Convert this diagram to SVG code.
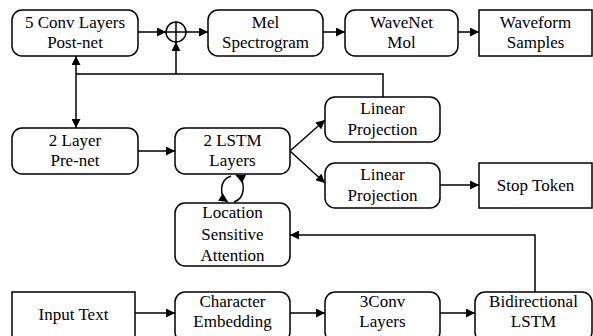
<svg xmlns="http://www.w3.org/2000/svg" width="593" height="336" viewBox="0 0 593 336">
<defs>
<marker id="ah" viewBox="0 0 10 10" refX="10" refY="5" markerWidth="10" markerHeight="9" markerUnits="userSpaceOnUse" orient="auto-start-reverse">
<path d="M0,0L10,5L0,10z" fill="#000"/>
</marker>
</defs>
<rect width="593" height="336" fill="#fff"/>
<g id="connectors" fill="none" stroke="#000" stroke-width="1.5">
<path marker-end="url(#ah)" d="M138,32H166"/>
<path marker-end="url(#ah)" d="M186,32H208"/>
<path marker-end="url(#ah)" d="M323,32H345"/>
<path marker-end="url(#ah)" d="M458,32H479"/>
<path d="M76,74H383V97"/>
<path marker-end="url(#ah)" d="M176,74V42"/>
<path marker-end="url(#ah)" d="M76,74V56"/>
<path marker-end="url(#ah)" d="M76,74V128"/>
<path marker-end="url(#ah)" d="M138,151H175"/>
<path marker-end="url(#ah)" d="M290,151L325,120"/>
<path marker-end="url(#ah)" d="M290,151L325,183"/>
<path marker-end="url(#ah)" d="M440,185H479"/>
<path marker-end="url(#ah)" d="M535,292V235H290"/>
<path marker-end="url(#ah)" d="M135,313H175"/>
<path marker-end="url(#ah)" d="M290,313H325"/>
<path marker-end="url(#ah)" d="M440,313H475"/>
<path marker-end="url(#ah)" d="M231,176C219,180 219,196 228,202"/>
<path marker-end="url(#ah)" d="M234,202C246,198 246,180 236,175"/>
</g>
<g stroke="#000" stroke-width="1.5" fill="#fff">
<g id="postnet"><rect x="12" y="10" width="126" height="46" rx="10"/></g>
<g id="sum"><circle cx="176" cy="32" r="10"/><path fill="none" d="M166,32H186M176,22V42"/></g>
<g id="mel"><rect x="208" y="10" width="115" height="46" rx="10"/></g>
<g id="wavenet"><rect x="345" y="10" width="113" height="46" rx="10"/></g>
<g id="waveform"><rect x="479" y="10" width="113" height="46"/></g>
<g id="linear1"><rect x="325" y="97" width="115" height="45" rx="10"/></g>
<g id="prenet"><rect x="12" y="128" width="126" height="46" rx="10"/></g>
<g id="lstm"><rect x="175" y="128" width="115" height="46" rx="10"/></g>
<g id="linear2"><rect x="325" y="163" width="115" height="45" rx="10"/></g>
<g id="stop"><rect x="479" y="163" width="113" height="45"/></g>
<g id="attention"><rect x="175" y="203" width="115" height="63" rx="10"/></g>
<g id="input"><rect x="12" y="292" width="123" height="50"/></g>
<g id="embedding"><rect x="175" y="292" width="115" height="50" rx="10"/></g>
<g id="conv3"><rect x="325" y="292" width="115" height="50" rx="10"/></g>
<g id="bilstm"><rect x="475" y="292" width="117" height="50" rx="10"/></g>
</g>
<g id="labels" fill="#000" text-anchor="middle">
<text font-family="Times New Roman" font-size="17" x="75" y="28">5 Conv Layers</text>
<text font-family="Times New Roman" font-size="17" x="75" y="48">Post-net</text>
<text font-family="Times New Roman" font-size="17" x="265.5" y="28">Mel</text>
<text font-family="Times New Roman" font-size="17" x="265.5" y="48">Spectrogram</text>
<text font-family="Times New Roman" font-size="17" x="401.5" y="28">WaveNet</text>
<text font-family="Times New Roman" font-size="17" x="401.5" y="48">Mol</text>
<text font-family="Times New Roman" font-size="17" x="535.5" y="28">Waveform</text>
<text font-family="Times New Roman" font-size="17" x="535.5" y="48">Samples</text>
<text font-family="Times New Roman" font-size="17" x="382.5" y="114">Linear</text>
<text font-family="Times New Roman" font-size="17" x="382.5" y="135">Projection</text>
<text font-family="Times New Roman" font-size="17" x="75" y="146">2 Layer</text>
<text font-family="Times New Roman" font-size="17" x="75" y="166">Pre-net</text>
<text font-family="Times New Roman" font-size="17" x="232.5" y="146">2 LSTM</text>
<text font-family="Times New Roman" font-size="17" x="232.5" y="166">Layers</text>
<text font-family="Times New Roman" font-size="17" x="382.5" y="180">Linear</text>
<text font-family="Times New Roman" font-size="17" x="382.5" y="201">Projection</text>
<text font-family="Times New Roman" font-size="17" x="535.5" y="191">Stop Token</text>
<text font-family="Times New Roman" font-size="17" x="232.5" y="218">Location</text>
<text font-family="Times New Roman" font-size="17" x="232.5" y="240">Sensitive</text>
<text font-family="Times New Roman" font-size="17" x="232.5" y="261">Attention</text>
<text font-family="Times New Roman" font-size="17" x="73.5" y="320">Input Text</text>
<text font-family="Times New Roman" font-size="17" x="232.5" y="307">Character</text>
<text font-family="Times New Roman" font-size="17" x="232.5" y="327">Embedding</text>
<text font-family="Times New Roman" font-size="17" x="382.5" y="307">3Conv</text>
<text font-family="Times New Roman" font-size="17" x="382.5" y="327">Layers</text>
<text font-family="Times New Roman" font-size="17" x="533.5" y="307">Bidirectional</text>
<text font-family="Times New Roman" font-size="17" x="533.5" y="327">LSTM</text>
</g>
</svg>
